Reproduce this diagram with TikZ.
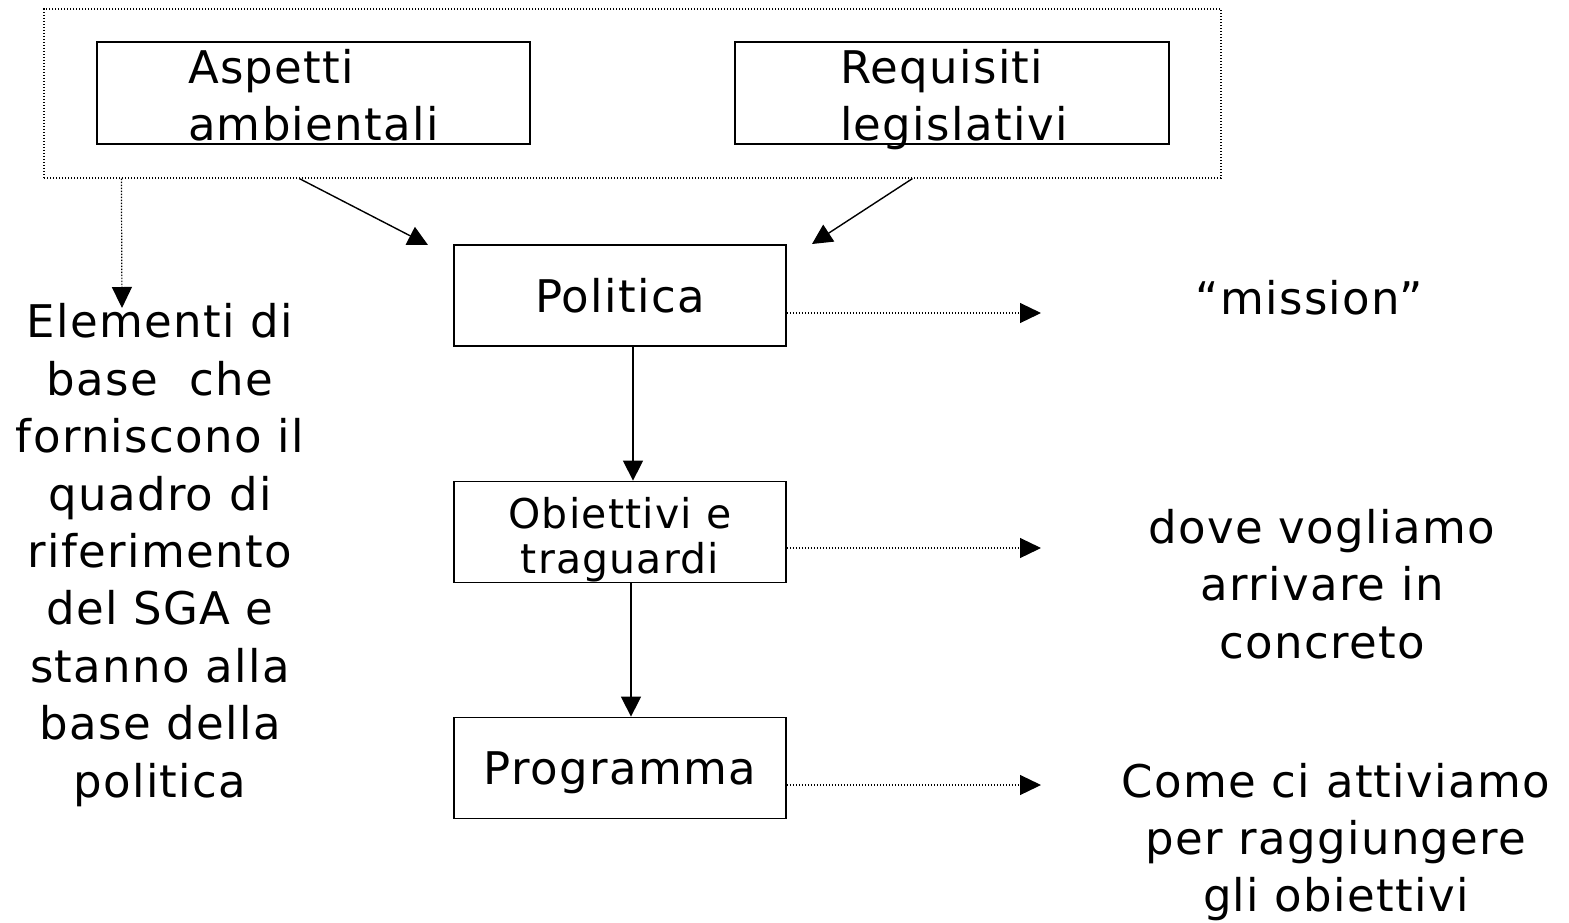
\documentclass[tikz,border=0pt]{standalone}
\usepackage{fontspec}
\setmainfont{DejaVu Sans}[LetterSpace=3]
\usetikzlibrary{arrows.meta}
\tikzset{
  box/.style={draw,line width=0.9pt,minimum width=166pt,minimum height=50.5pt,inner sep=0pt,align=center,text depth=0pt},
  topbox/.style={draw,line width=0.9pt,minimum height=51pt,inner ysep=0pt,align=left,text height=18.7pt,text depth=28.7pt},
  dotbox/.style={draw,line width=0.6pt,dash pattern=on 0.7pt off 0.8pt},
  dotarrow/.style={line width=0.6pt,dash pattern=on 0.7pt off 0.8pt,-{Triangle[length=10.5pt,width=10pt]}},
  arrow/.style={line width=0.7pt,-{Triangle[length=10pt,width=10pt]}},
  txt/.style={align=center,inner sep=0pt},
  big/.style={font=\fontsize{22.5pt}{28.7pt}\selectfont},
  small/.style={font=\fontsize{20.5pt}{22.5pt}\selectfont}
}
\begin{document}
\begin{tikzpicture}[x=0.5pt,y=-0.5pt]
\useasboundingbox (0,0) rectangle (1569,922);
\node [dotbox,minimum width=588.5pt,minimum height=84.5pt] (quadro) at (632.5,93.5) {};
\node [topbox,big,inner xsep=45.5pt,text width=125.5pt] (asp) at (313.5,93) {Aspetti\\ambientali};
\node [topbox,big,inner xsep=52.5pt,text width=112pt] (req) at (952,93) {Requisiti\\legislativi};
\node [box,big] (pol) at (620,295.5) {Politica};
\node [box,small,text height=41pt] (obi) at (620,532) {Obiettivi e\\traguardi};
\node [box,big] (prog) at (620,768) {Programma};
\node [txt,big] (elem) at (160,555) {Elementi di\\base~ che\\forniscono il\\quadro di\\riferimento\\del SGA e\\stanno alla\\base della\\politica};
\node [txt,big] (mission) at (1309,298) {“mission”};
\node [txt,big] (dove) at (1322,584) {dove vogliamo\\arrivare in\\concreto};
\node [txt,big] (come) at (1336,842) {Come ci attiviamo\\per raggiungere\\gli obiettivi};
\coordinate (p1) at (428,245);
\coordinate (p2) at (812,244);
\coordinate (e1) at (122,308);
\coordinate (m1) at (1041,313);
\coordinate (m2) at (1041,548);
\coordinate (m3) at (1041,785);
\draw [arrow] ([xshift=128pt]quadro.south west) -- (p1);
\draw [arrow] ([xshift=434.5pt]quadro.south west) -- (p2);
\draw [dotarrow] ([xshift=39pt]quadro.south west) -- (e1);
\draw [arrow] ([xshift=6.5pt]pol.south) -- ([xshift=6.5pt]obi.north);
\draw [arrow] ([xshift=5.5pt]obi.south) -- ([xshift=5.5pt]prog.north);
\draw [dotarrow] ([yshift=-8.75pt]pol.east) -- (m1);
\draw [dotarrow] ([yshift=-8pt]obi.east) -- (m2);
\draw [dotarrow] ([yshift=-8.5pt]prog.east) -- (m3);
\end{tikzpicture}
\end{document}
